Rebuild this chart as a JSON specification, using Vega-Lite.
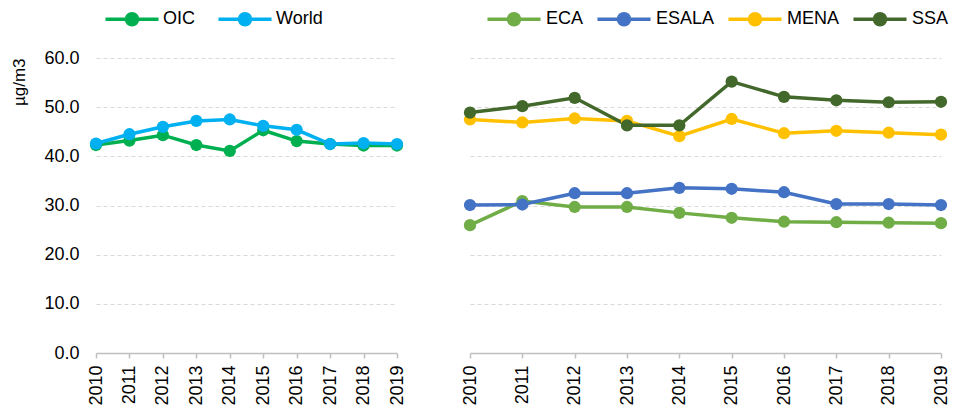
{
  "$schema": "https://vega.github.io/schema/vega-lite/v6.json",
  "background": "white",
  "padding": {"left": 10, "top": 10, "right": 3, "bottom": 0},
  "datasets": {
    "left": [
      {"series": "OIC", "year": "2010", "value": 42.3},
      {"series": "OIC", "year": "2011", "value": 43.2},
      {"series": "OIC", "year": "2012", "value": 44.3},
      {"series": "OIC", "year": "2013", "value": 42.3},
      {"series": "OIC", "year": "2014", "value": 41.1},
      {"series": "OIC", "year": "2015", "value": 45.3},
      {"series": "OIC", "year": "2016", "value": 43.1},
      {"series": "OIC", "year": "2017", "value": 42.5},
      {"series": "OIC", "year": "2018", "value": 42.2},
      {"series": "OIC", "year": "2019", "value": 42.2},
      {"series": "World", "year": "2010", "value": 42.6},
      {"series": "World", "year": "2011", "value": 44.5},
      {"series": "World", "year": "2012", "value": 46.0},
      {"series": "World", "year": "2013", "value": 47.2},
      {"series": "World", "year": "2014", "value": 47.5},
      {"series": "World", "year": "2015", "value": 46.2},
      {"series": "World", "year": "2016", "value": 45.4},
      {"series": "World", "year": "2017", "value": 42.5},
      {"series": "World", "year": "2018", "value": 42.7},
      {"series": "World", "year": "2019", "value": 42.5}
    ],
    "right": [
      {"series": "ECA", "year": "2010", "value": 26.0},
      {"series": "ECA", "year": "2011", "value": 30.9},
      {"series": "ECA", "year": "2012", "value": 29.7},
      {"series": "ECA", "year": "2013", "value": 29.7},
      {"series": "ECA", "year": "2014", "value": 28.5},
      {"series": "ECA", "year": "2015", "value": 27.5},
      {"series": "ECA", "year": "2016", "value": 26.7},
      {"series": "ECA", "year": "2017", "value": 26.6},
      {"series": "ECA", "year": "2018", "value": 26.5},
      {"series": "ECA", "year": "2019", "value": 26.4},
      {"series": "ESALA", "year": "2010", "value": 30.1},
      {"series": "ESALA", "year": "2011", "value": 30.2},
      {"series": "ESALA", "year": "2012", "value": 32.5},
      {"series": "ESALA", "year": "2013", "value": 32.5},
      {"series": "ESALA", "year": "2014", "value": 33.6},
      {"series": "ESALA", "year": "2015", "value": 33.4},
      {"series": "ESALA", "year": "2016", "value": 32.7},
      {"series": "ESALA", "year": "2017", "value": 30.3},
      {"series": "ESALA", "year": "2018", "value": 30.3},
      {"series": "ESALA", "year": "2019", "value": 30.1},
      {"series": "MENA", "year": "2010", "value": 47.5},
      {"series": "MENA", "year": "2011", "value": 46.9},
      {"series": "MENA", "year": "2012", "value": 47.7},
      {"series": "MENA", "year": "2013", "value": 47.2},
      {"series": "MENA", "year": "2014", "value": 44.1},
      {"series": "MENA", "year": "2015", "value": 47.6},
      {"series": "MENA", "year": "2016", "value": 44.7},
      {"series": "MENA", "year": "2017", "value": 45.2},
      {"series": "MENA", "year": "2018", "value": 44.8},
      {"series": "MENA", "year": "2019", "value": 44.4},
      {"series": "SSA", "year": "2010", "value": 48.9},
      {"series": "SSA", "year": "2011", "value": 50.2},
      {"series": "SSA", "year": "2012", "value": 51.9},
      {"series": "SSA", "year": "2013", "value": 46.3},
      {"series": "SSA", "year": "2014", "value": 46.3},
      {"series": "SSA", "year": "2015", "value": 55.2},
      {"series": "SSA", "year": "2016", "value": 52.1},
      {"series": "SSA", "year": "2017", "value": 51.4},
      {"series": "SSA", "year": "2018", "value": 51.0},
      {"series": "SSA", "year": "2019", "value": 51.1}
    ]
  },
  "config": {
    "font": "Liberation Sans",
    "view": {"stroke": null},
    "axis": {"labelFont": "Liberation Sans", "labelFontSize": 18, "labelColor": "#000000", "titleFont": "Liberation Sans", "titleFontWeight": "normal", "titleColor": "#000000"},
    "legend": {"labelFont": "Liberation Sans", "labelFontSize": 18, "labelColor": "#000000"}
  },
  "spacing": 55,
  "resolve": {"scale": {"color": "independent", "y": "independent"}, "legend": {"color": "independent"}},
  "hconcat": [
    {
      "width": 301,
      "height": 295,
      "data": {"name": "left"},
      "encoding": {
        "x": {"field": "year", "type": "ordinal", "scale": {"type": "point", "padding": 0},
          "axis": {"title": null, "labelAngle": -90, "labelAlign": "right", "labelBaseline": "middle", "domainColor": "#BFBFBF", "domainWidth": 1.5, "tickColor": "#BFBFBF", "tickWidth": 1.5, "tickSize": 5, "labelPadding": 7, "grid": false}},
        "y": {"field": "value", "type": "quantitative", "scale": {"domain": [0, 60]},
          "axis": {"title": "µg/m3", "titleFontSize": 17, "titleAnchor": "end", "titlePadding": 15, "values": [0, 10, 20, 30, 40, 50, 60], "format": ".1f", "domain": false, "ticks": false, "labelPadding": 17, "grid": true, "gridColor": "#D9D9D9", "gridDash": [4, 3], "gridWidth": 1.2}},
        "color": {"field": "series", "type": "nominal",
          "scale": {"domain": ["OIC", "World"], "range": ["#00B050", "#00B0F0"]},
          "legend": {"title": null, "orient": "none", "direction": "horizontal", "legendX": 27, "legendY": -48, "columnPadding": 15, "labelOffset": 22,
            "symbolType": "M-3.79,0H3.79M0.79,0A0.79,0.79,0,1,1,-0.79,0A0.79,0.79,0,1,1,0.79,0Z", "symbolSize": 196, "symbolStrokeWidth": 3.5}}
      },
      "layer": [
        {"mark": {"type": "line", "strokeWidth": 3.5}},
        {"mark": {"type": "point", "filled": true, "size": 150, "opacity": 1}}
      ]
    },
    {
      "width": 471,
      "height": 295,
      "data": {"name": "right"},
      "encoding": {
        "x": {"field": "year", "type": "ordinal", "scale": {"type": "point", "padding": 0},
          "axis": {"title": null, "labelAngle": -90, "labelAlign": "right", "labelBaseline": "middle", "domainColor": "#BFBFBF", "domainWidth": 1.5, "tickColor": "#BFBFBF", "tickWidth": 1.5, "tickSize": 5, "labelPadding": 7, "grid": false}},
        "y": {"field": "value", "type": "quantitative", "scale": {"domain": [0, 60]},
          "axis": {"title": null, "values": [0, 10, 20, 30, 40, 50, 60], "labels": false, "domain": false, "ticks": false, "grid": true, "gridColor": "#D9D9D9", "gridDash": [4, 3], "gridWidth": 1.2}},
        "color": {"field": "series", "type": "nominal",
          "scale": {"domain": ["ECA", "ESALA", "MENA", "SSA"], "range": ["#70AD47", "#4472C4", "#FFC000", "#43682B"]},
          "legend": {"title": null, "orient": "none", "direction": "horizontal", "legendX": 35, "legendY": -48, "columnPadding": 6, "labelOffset": 23,
            "symbolType": "M-3.79,0H3.79M0.79,0A0.79,0.79,0,1,1,-0.79,0A0.79,0.79,0,1,1,0.79,0Z", "symbolSize": 196, "symbolStrokeWidth": 3.5}}
      },
      "layer": [
        {"mark": {"type": "line", "strokeWidth": 3.5}},
        {"mark": {"type": "point", "filled": true, "size": 150, "opacity": 1}}
      ]
    }
  ]
}
